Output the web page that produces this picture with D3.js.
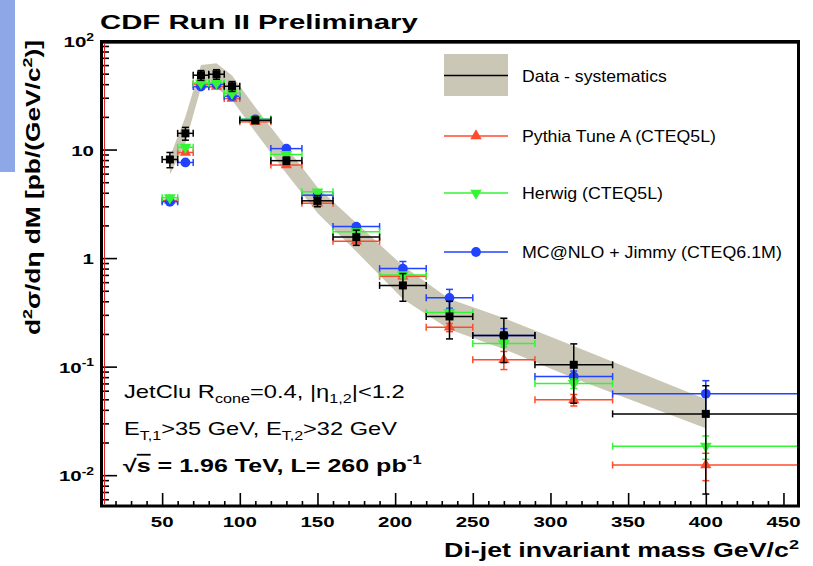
<!DOCTYPE html>
<html>
<head>
<meta charset="utf-8">
<script src="https://cdn.jsdelivr.net/npm/d3@7"></script>
<style>
  body { margin: 0; background: #fff; }
  text { font-family: "Liberation Sans", Arial, sans-serif; }
</style>
</head>
<body>
<svg id="chart" width="813" height="566"></svg>
<script>
// bins in di-jet mass (GeV/c^2)
var massLo  = [50, 60, 70, 80, 90, 100, 120, 140, 160, 190, 220, 250, 290, 340];
var massHi  = [60, 70, 80, 90, 100, 120, 140, 160, 190, 220, 250, 290, 340, 460];
var massMid = [55, 65, 75, 85, 95, 110, 130, 150, 175, 205, 235, 270, 315, 400];

// data, pb/(GeV/c^2)
var dataVal = [8.1, 14.1, 48.4, 49.4, 38.3, 18.6, 7.9, 3.37, 1.56, 0.56, 0.29, 0.194, 0.104, 0.0367];
var dataErr = [1.3, 1.9, 5, 5, 4, 1.2, 0.6, 0.4, 0.25, 0.16, 0.11, 0.085, 0.058, 0.03];
var sysHi   = [8.6, 20, 60, 62.5, 48, 24.5, 10.5, 4.5, 2.1, 0.85, 0.42, 0.28, 0.155, 0.05];
var sysLo   = [5.9, 11.5, 37, 37, 28.6, 14.5, 6, 2.6, 1.15, 0.42, 0.22, 0.145, 0.078, 0.027];

// Monte Carlo
var pythiaVal = [3.4, 9.4, 40, 38, 29.5, 18, 7.2, 3.2, 1.43, 0.68, 0.23, 0.116, 0.0494, 0.0124];
var pythiaErr = [0.15, 0.3, 1.2, 1.2, 1.0, 0.5, 0.25, 0.12, 0.06, 0.035, 0.02, 0.022, 0.006, 0.0035];
var herwigVal = [3.6, 10.5, 41, 41, 33, 19, 9, 4.08, 1.75, 0.70, 0.316, 0.163, 0.070, 0.0185];
var herwigErr = [0.15, 0.35, 1.2, 1.2, 1.0, 0.5, 0.3, 0.14, 0.07, 0.04, 0.02, 0.012, 0.007, 0.0045];
var mcnloVal  = [3.3, 7.6, 38, 40, 31, 19, 10.2, 3.8, 1.95, 0.8, 0.43, 0.194, 0.081, 0.0562];
var mcnloErr  = [0.15, 0.3, 1.2, 1.2, 1.0, 0.6, 0.35, 0.15, 0.09, 0.13, 0.085, 0.03, 0.01, 0.018];

var xMajor = [50, 100, 150, 200, 250, 300, 350, 400, 450];
var yDecades = [0.01, 0.1, 1, 10, 100];
var yLabels = [["10", ["-2", "sup"]], ["10", ["-1", "sup"]], ["1"], ["10"], ["10", ["2", "sup"]]];

var legendNames = ["Data - systematics", "Pythia Tune A (CTEQ5L)", "Herwig (CTEQ5L)", "MC@NLO + Jimmy (CTEQ6.1M)"];

var bandColor = "#cbc7b6";
var red = "#ff4b2b", green = "#33f533", blue = "#2142ff";

var svg = d3.select("#chart");
var x = d3.scaleLinear().domain([10, 460]).range([100, 799]);
var y = d3.scaleLog().domain([0.0052, 100]).range([506, 41]);

// text with sub/superscripts, stretched to a given width
function putText(parent, px, py, parts, o) {
	var g = parent.append("g").attr("transform", "translate(" + px + "," + py + ") rotate(" + (o.rot || 0) + ")");
	var t = g.append("text")
		.attr("font-size", o.size)
		.attr("font-weight", o.weight || "normal")
		.attr("text-anchor", o.anchor || "start")
		.attr("fill", "#000");
	var shift = 0;
	parts.forEach(function(p) {
		var s = typeof p === "string" ? p : p[0];
		var k = typeof p === "string" ? "n" : p[1];
		var target = k === "sup" ? -0.42 * o.size : (k === "sub" ? 0.28 * o.size : 0);
		var sp = t.append("tspan").text(s).attr("dy", target - shift);
		if (k === "sup" || k === "sub") sp.attr("font-size", o.size * 0.68);
		if (k === "over") sp.style("text-decoration", "overline");
		shift = target;
	});
	var sx = o.sx || 1;
	if (o.width) sx = o.width / t.node().getComputedTextLength();
	t.attr("transform", "scale(" + sx + ",1)");
	return t;
}

// left blue strip
svg.append("rect").attr("x", 0).attr("y", 0).attr("width", 15).attr("height", 172).attr("fill", "#8ea7e6");

// systematics band
var idx = d3.range(massMid.length);
svg.append("path")
	.datum(idx)
	.attr("fill", bandColor)
	.attr("d", d3.area()
		.x(function(i) { return x(massMid[i]); })
		.y0(function(i) { return y(sysLo[i]); })
		.y1(function(i) { return y(sysHi[i]); }));

function drawSeries(vals, errs, color, symbol, size, rot) {
	var g = svg.append("g").attr("stroke", color).attr("stroke-width", 1.5).attr("fill", "none");
	idx.forEach(function(i) {
		var cy = y(vals[i]), cx = x(massMid[i]);
		var x0 = x(massLo[i]), x1 = x(massHi[i]);
		var yt = y(vals[i] + errs[i]), yb = y(vals[i] - errs[i]);
		g.append("line").attr("x1", x0).attr("x2", x1).attr("y1", cy).attr("y2", cy);
		g.append("line").attr("x1", x0).attr("x2", x0).attr("y1", cy - 3.5).attr("y2", cy + 3.5);
		g.append("line").attr("x1", x1).attr("x2", x1).attr("y1", cy - 3.5).attr("y2", cy + 3.5);
		g.append("line").attr("x1", cx).attr("x2", cx).attr("y1", yt).attr("y2", yb);
		g.append("line").attr("x1", cx - 3.5).attr("x2", cx + 3.5).attr("y1", yt).attr("y2", yt);
		g.append("line").attr("x1", cx - 3.5).attr("x2", cx + 3.5).attr("y1", yb).attr("y2", yb);
		g.append("path")
			.attr("d", d3.symbol().type(symbol).size(size)())
			.attr("transform", "translate(" + cx + "," + cy + ") rotate(" + rot + ")")
			.attr("fill", color).attr("stroke", "none");
	});
}

drawSeries(pythiaVal, pythiaErr, red, d3.symbolTriangle, 55, 0);
drawSeries(mcnloVal, mcnloErr, blue, d3.symbolCircle, 75, 0);
drawSeries(herwigVal, herwigErr, green, d3.symbolTriangle, 60, 180);
drawSeries(dataVal, dataErr, "#000", d3.symbolSquare, 64, 0);

// axes ticks (inward)
var xMinor = d3.range(20, 460, 10).filter(function(v) { return v % 50 !== 0; });
var yMinor = [];
[0.001, 0.01, 0.1, 1, 10].forEach(function(d) {
	for (var k = 2; k <= 9; k++) { var v = k * d; if (v > 0.0052 && v < 100) yMinor.push(v); }
});

function tickAxis(axis, tr) {
	var g = svg.append("g").attr("transform", tr).call(axis);
	g.select(".domain").remove();
	g.selectAll("line").attr("stroke", "#000").attr("stroke-width", 1.6);
	return g;
}
tickAxis(d3.axisBottom(x).tickValues(xMajor).tickSize(-13).tickFormat(""), "translate(0,506)");
tickAxis(d3.axisBottom(x).tickValues(xMinor).tickSize(-5).tickFormat(""), "translate(0,506)");
tickAxis(d3.axisLeft(y).tickValues(yDecades).tickSize(-15).tickFormat(""), "translate(102,0)");
tickAxis(d3.axisLeft(y).tickValues(yMinor).tickSize(-7).tickFormat(""), "translate(102,0)");

// frame
svg.append("line").attr("x1", 103).attr("x2", 797).attr("y1", 43.5).attr("y2", 43.5).attr("stroke", "#e02020").attr("stroke-width", 1);
svg.append("line").attr("x1", 104.5).attr("x2", 104.5).attr("y1", 43).attr("y2", 504).attr("stroke", "#e02020").attr("stroke-width", 1);
svg.append("rect").attr("x", 101.5).attr("y", 41.5).attr("width", 697).attr("height", 464.5)
	.attr("fill", "none").attr("stroke", "#000").attr("stroke-width", 3);

// tick labels
xMajor.forEach(function(v) {
	putText(svg, x(v), 527, [String(v)], { size: 15.5, weight: "bold", anchor: "middle", sx: 1.32 });
});
yDecades.forEach(function(v, i) {
	putText(svg, 94, y(v) + 6, yLabels[i], { size: 15.5, weight: "bold", anchor: "end", sx: 1.32 });
});

// titles
putText(svg, 100, 29, ["CDF Run II Preliminary"], { size: 21, weight: "bold", width: 318 });
putText(svg, 799, 557, ["Di-jet invariant mass GeV/c", ["2", "sup"]], { size: 20, weight: "bold", anchor: "end", width: 355 });
putText(svg, 40, 40, ["d", ["2", "sup"], "σ/dη dM [pb/(GeV/c", ["2", "sup"], ")]"],
	{ size: 20, weight: "bold", anchor: "end", rot: -90, width: 295 });

// annotations
putText(svg, 124, 398, ["JetClu R", ["cone", "sub"], "=0.4, |η", ["1,2", "sub"], "|<1.2"], { size: 18, width: 281 });
putText(svg, 124, 435, ["E", ["T,1", "sub"], ">35 GeV, E", ["T,2", "sub"], ">32 GeV"], { size: 18, width: 273 });
putText(svg, 123, 472, ["√", ["s", "over"], " = 1.96 TeV, L= 260 pb", ["-1", "sup"]], { size: 18, weight: "bold", width: 299 });

// legend
var legY = [75.5, 136, 193, 252];
var legW = [145, 194, 141, 260];
var legC = ["#000", red, green, blue];
svg.append("rect").attr("x", 444).attr("y", 54).attr("width", 64).attr("height", 42).attr("fill", bandColor);
legY.forEach(function(ly, i) {
	svg.append("line").attr("x1", 444).attr("x2", 508).attr("y1", ly).attr("y2", ly)
		.attr("stroke", legC[i]).attr("stroke-width", 1.5);
	if (i > 0) {
		var sym = i === 3 ? d3.symbolCircle : d3.symbolTriangle;
		svg.append("path").attr("d", d3.symbol().type(sym).size(i === 3 ? 75 : 58)())
			.attr("transform", "translate(476," + ly + ") rotate(" + (i === 2 ? 180 : 0) + ")")
			.attr("fill", legC[i]);
	}
	putText(svg, 522, ly + 6, [legendNames[i]], { size: 16.5, width: legW[i] });
});
</script>
</body>
</html>
